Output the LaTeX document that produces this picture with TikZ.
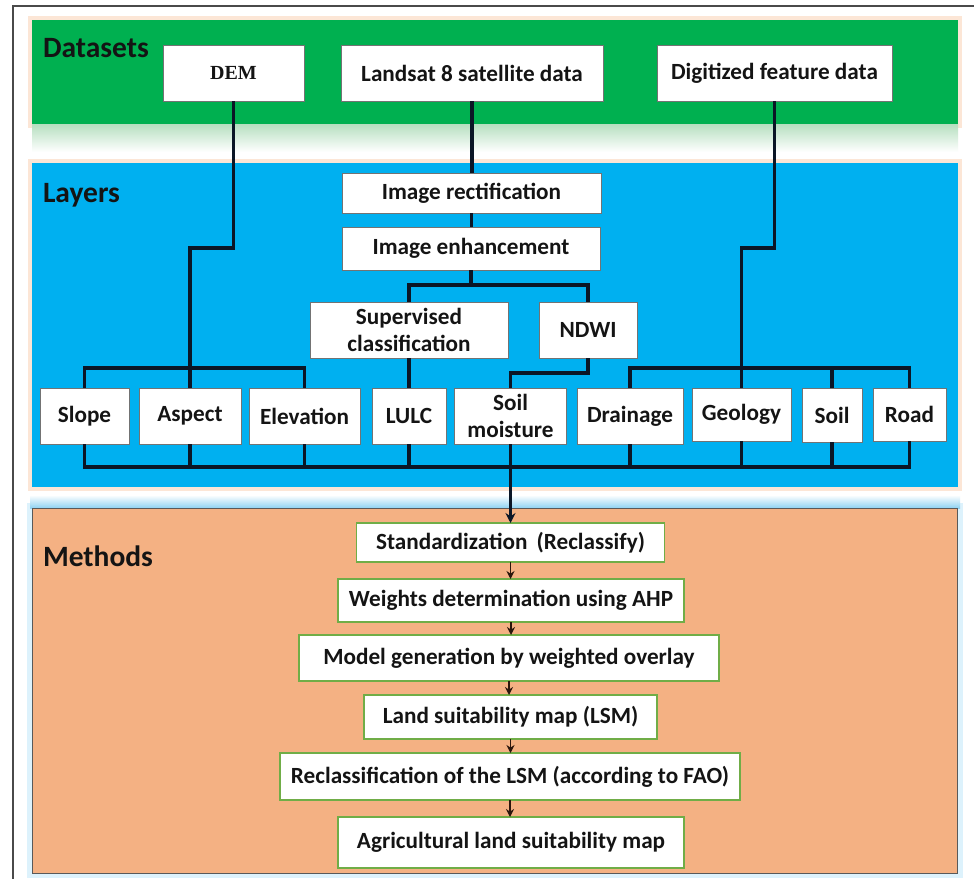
\documentclass[tikz,border=0pt]{standalone}
\usepackage{fontspec}
\setmainfont{Carlito}
\newfontfamily\timesfont{Liberation Serif}
\usetikzlibrary{arrows.meta}
\definecolor{bandgreen}{HTML}{00B050}
\definecolor{bandblue}{HTML}{00B0F0}
\definecolor{bandorange}{HTML}{F4B183}
\definecolor{peach}{HTML}{FCE6D6}
\definecolor{glowblue}{HTML}{8FD3F2}
\definecolor{paleblue}{HTML}{DDF2FC}
\definecolor{palegreen}{HTML}{B6DFC0}
\definecolor{boxgreen}{HTML}{70AD47}
\definecolor{linecol}{HTML}{0B1626}
\definecolor{arrowcol}{HTML}{2B160C}
\definecolor{framecol}{HTML}{4A4A4A}
\begin{document}
\begin{tikzpicture}[x=1pt,y=-1pt,
  every node/.style={inner sep=0pt, outer sep=0pt, text=black!92},
  dbox/.style={draw=black!55, line width=0.8pt, fill=white, align=center,
    font=\fontsize{23.2}{27.5}\selectfont\bfseries},
  mbox/.style={draw=boxgreen, line width=1.1pt, fill=white, align=center,
    font=\fontsize{23.2}{27.5}\selectfont\bfseries},
  conn/.style={line width=3.3pt, draw=linecol},
  marrow/.style={line width=1.2pt, draw=arrowcol, -{Stealth[length=8pt,width=8pt]}},
  seclabel/.style={anchor=west, font=\fontsize{29.5}{32}\selectfont\bfseries}]
\useasboundingbox (0,0) rectangle (974,878);
\fill[white] (0,0) rectangle (974,878);
% outer frame
\draw[framecol, line width=1.5pt] (13,880) -- (13,6) -- (976,6);
% bands
\fill[peach] (28,16) rectangle (962,128);
\fill[bandgreen] (32,20) rectangle (958,124);
\shade[top color=palegreen, bottom color=white] (32,124) rectangle (958,152);
\fill[peach] (28,159) rectangle (962,491);
\fill[bandblue] (32,163) rectangle (958,487);
\fill[paleblue] (27,503) rectangle (963,878);
\shade[top color=white, bottom color=glowblue] (30,495) rectangle (960,508);
\filldraw[fill=bandorange, draw=black!65, line width=0.8pt] (32,508) rectangle (957,873);
% section labels
\node[seclabel] (lds) at (43,48) {Datasets};
\node[seclabel] (lly) at (43,195) {Layers};
\node[seclabel] (lme) at (43,556) {Methods};
% dataset boxes
\node[dbox, minimum width=141pt, minimum height=56pt, font=\fontsize{20}{24}\selectfont\timesfont\bfseries] (dem) at (233.5,73) {DEM};
\node[dbox, minimum width=262pt, minimum height=56pt] (lsat) at (472,73) {Landsat 8 satellite data};
\node[dbox, minimum width=235pt, minimum height=56pt] (dig) at (774.5,73) {Digitized feature data};
% processing boxes
\node[dbox, minimum width=259pt, minimum height=40pt] (rect) at (471.5,193) {Image rectification};
\node[dbox, minimum width=258pt, minimum height=43pt] (enh) at (471,248.5) {Image enhancement};
\node[dbox, minimum width=198pt, minimum height=56pt] (sup) at (409,330) {Supervised\\classification};
\node[dbox, minimum width=98pt, minimum height=56pt] (ndwi) at (588,330) {NDWI};
% layer boxes
\node[dbox, minimum width=89pt, minimum height=56pt] (slope) at (84.5,416) {Slope};
\node[dbox, minimum width=102pt, minimum height=56pt] (aspect) at (190,416) {Aspect};
\node[dbox, minimum width=111pt, minimum height=56pt] (elev) at (304.5,416) {Elevation};
\node[dbox, minimum width=74pt, minimum height=56pt] (lulc) at (409,416) {LULC};
\node[dbox, minimum width=112pt, minimum height=56pt] (smoist) at (510.5,416) {Soil\\moisture};
\node[dbox, minimum width=106pt, minimum height=56pt] (drain) at (630,416) {Drainage};
\node[dbox, minimum width=99pt, minimum height=53pt] (geol) at (741.5,414.5) {Geology};
\node[dbox, minimum width=60pt, minimum height=54pt] (soil) at (832,415) {Soil};
\node[dbox, minimum width=73pt, minimum height=53pt] (road) at (909.5,414.5) {Road};
% method boxes
\node[mbox, minimum width=308pt, minimum height=39pt] (std) at (510.5,542.5) {Standardization\, (Reclassify)};
\node[mbox, minimum width=346pt, minimum height=43pt] (wts) at (511,600.5) {Weights determination using AHP};
\node[mbox, minimum width=420pt, minimum height=46pt] (model) at (509,658) {Model generation by weighted overlay};
\node[mbox, minimum width=293pt, minimum height=44pt] (lsm) at (510.5,717) {Land suitability map (LSM)};
\node[mbox, minimum width=460pt, minimum height=47pt] (recl) at (510,776.5) {Reclassification of the LSM (according to FAO)};
\node[mbox, minimum width=346pt, minimum height=51pt] (agri) at (511,842.5) {Agricultural land suitability map};
% connectors: DEM branch
\draw[conn] (dem.south) -- (dem.south |- 0,248) -| (aspect.north);
\draw[conn] (slope.north) -- (slope.north |- 0,368) -- (elev.north |- 0,368) -- (elev.north);
% Landsat branch
\draw[conn] (lsat.south) -- (lsat.south |- rect.north);
\draw[conn] (rect.south) -- (rect.south |- enh.north);
\draw[conn] (enh.south) -- (enh.south |- 0,285);
\draw[conn] (sup.north) -- (sup.north |- 0,285) -- (ndwi.north |- 0,285) -- (ndwi.north);
\draw[conn] (sup.south) -- (sup.south |- lulc.north);
\draw[conn] (ndwi.south) -- (ndwi.south |- 0,373) -| (smoist.north);
% Digitized branch
\draw[conn] (dig.south) -- (dig.south |- 0,248) -| (geol.north);
\draw[conn] (drain.north) -- (drain.north |- 0,368) -- (road.north |- 0,368) -- (road.north);
\draw[conn] (soil.north) -- (soil.north |- 0,368);
% bottom bus
\foreach \n in {slope,aspect,elev,lulc,smoist,drain,geol,soil,road}
  \draw[conn] (\n.south) -- (\n.south |- 0,467);
\draw[conn, line cap=rect] (slope.south |- 0,467) -- (road.south |- 0,467);
\draw[line width=2.2pt, draw=linecol, -{Stealth[length=10pt,width=10pt]}] (smoist.south |- 0,467) -- (smoist.south |- std.north);
% method arrows
\draw[marrow] (std.south) -- (std.south |- wts.north);
\draw[marrow] (wts.south) -- (wts.south |- model.north);
\draw[marrow] (model.south) -- (model.south |- lsm.north);
\draw[marrow] (lsm.south) -- (lsm.south |- recl.north);
\draw[marrow] (recl.south) -- (recl.south |- agri.north);
\end{tikzpicture}
\end{document}
